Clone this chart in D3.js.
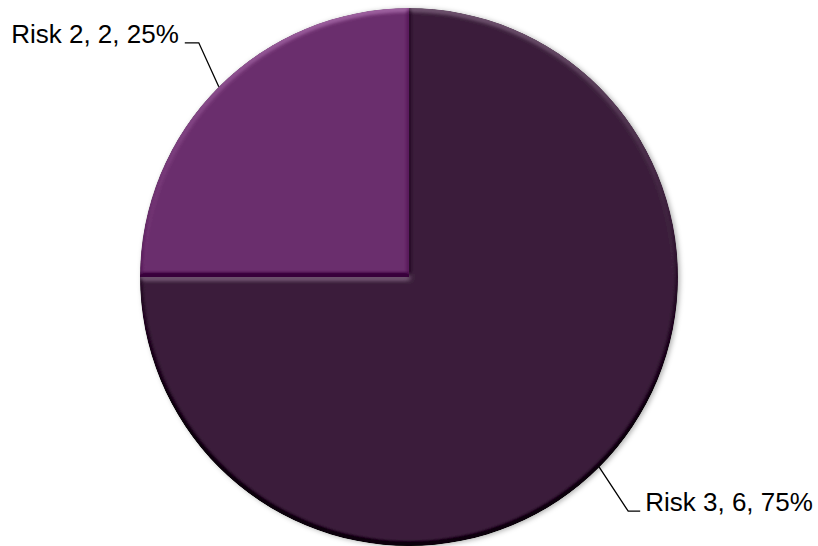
<!DOCTYPE html>
<html>
<head>
<meta charset="utf-8">
<script src="https://cdn.jsdelivr.net/npm/d3@7"></script>
<style>
  html, body { margin: 0; padding: 0; background: #fff; }
  svg { display: block; }
  text { font-family: "Liberation Sans", Arial, sans-serif; }
</style>
</head>
<body>
<svg id="chart" width="818" height="546"></svg>
<script>
// Risk counts per category
const categories = ["Risk 3", "Risk 2"];
const values = [6, 2];
const colors = ["#3b1f3b", "#612863"];

const W = 818, H = 546;
const cx = 409, cy = 277, R = 269;

const svg = d3.select("#chart");
const defs = svg.append("defs");

// Soft bevel: diffuse light from the top on the blurred slice alpha
const bevel = defs.append("filter").attr("id", "bevel")
  .attr("x", "-5%").attr("y", "-5%").attr("width", "110%").attr("height", "110%")
  .attr("color-interpolation-filters", "sRGB");
bevel.append("feGaussianBlur").attr("in", "SourceAlpha").attr("stdDeviation", 2.5).attr("result", "blur");
const light = bevel.append("feDiffuseLighting").attr("in", "blur")
  .attr("surfaceScale", 4).attr("diffuseConstant", 1).attr("lighting-color", "#fff").attr("result", "lit");
light.append("feDistantLight").attr("azimuth", 270).attr("elevation", 30);
bevel.append("feComposite").attr("in", "SourceGraphic").attr("in2", "lit")
  .attr("operator", "arithmetic").attr("k1", 0).attr("k2", 1).attr("k3", 0.4).attr("k4", -0.2)
  .attr("result", "shaded");
bevel.append("feComposite").attr("in", "shaded").attr("in2", "SourceAlpha").attr("operator", "in");

// Outer drop shadow for the whole pie
const shadow = defs.append("filter").attr("id", "shadow")
  .attr("x", "-10%").attr("y", "-10%").attr("width", "120%").attr("height", "120%");
shadow.append("feGaussianBlur").attr("in", "SourceAlpha").attr("stdDeviation", 2.5).attr("result", "b");
shadow.append("feOffset").attr("in", "b").attr("dx", 2).attr("dy", 1).attr("result", "o");
shadow.append("feFlood").attr("flood-color", "#000").attr("flood-opacity", 0.3).attr("result", "f");
shadow.append("feComposite").attr("in", "f").attr("in2", "o").attr("operator", "in").attr("result", "s");
const merge = shadow.append("feMerge");
merge.append("feMergeNode").attr("in", "s");
merge.append("feMergeNode").attr("in", "SourceGraphic");

// Slight vertical shading on the smaller slice
const grad = defs.append("linearGradient").attr("id", "g1")
  .attr("gradientUnits", "userSpaceOnUse")
  .attr("x1", 0).attr("y1", cy - R).attr("x2", 0).attr("y2", cy);
grad.append("stop").attr("offset", 0).attr("stop-color", "#6b2e6d");
grad.append("stop").attr("offset", 1).attr("stop-color", "#5c2560");

const fills = [colors[0], "url(#g1)"];

const data = categories.map((c, i) => ({ category: c, value: values[i], idx: i }));
const total = d3.sum(values);

const pie = d3.pie().sort(null).value(d => d.value).startAngle(0).endAngle(2 * Math.PI);
const arcs = pie(data);
const arc = d3.arc().innerRadius(0).outerRadius(R);

const g = svg.append("g").attr("transform", `translate(${cx},${cy})`).attr("filter", "url(#shadow)");
g.selectAll("path.slice")
  .data(arcs)
  .join("path")
  .attr("class", "slice")
  .attr("d", arc)
  .attr("fill", d => fills[d.data.idx])
  .attr("filter", "url(#bevel)");

// Leader lines and labels: elbow offsets from the arc edge point
const labelLayout = [
  { dx: 29, dy: 44, run: 12, gap: 5 },   // Risk 3
  { dx: -20, dy: -44, run: 14, gap: 6 }  // Risk 2
];

const labels = svg.append("g").attr("transform", `translate(${cx},${cy})`);
arcs.forEach(a => {
  const mid = (a.startAngle + a.endAngle) / 2;
  const p0 = [R * Math.sin(mid), -R * Math.cos(mid)];
  const L = labelLayout[a.data.idx];
  const p1 = [p0[0] + L.dx, p0[1] + L.dy];
  const side = Math.sin(mid) >= 0 ? 1 : -1;
  const p2 = [p1[0] + side * L.run, p1[1]];
  labels.append("path")
    .attr("d", d3.line()([p0, p1, p2]))
    .attr("fill", "none").attr("stroke", "#000").attr("stroke-width", 1.3);
  const pct = Math.round(a.data.value / total * 100);
  labels.append("text")
    .attr("x", p2[0] + side * L.gap)
    .attr("y", p2[1])
    .attr("text-anchor", side > 0 ? "start" : "end")
    .attr("font-size", 26)
    .attr("fill", "#000")
    .text(`${a.data.category}, ${a.data.value}, ${pct}%`);
});
</script>
</body>
</html>
